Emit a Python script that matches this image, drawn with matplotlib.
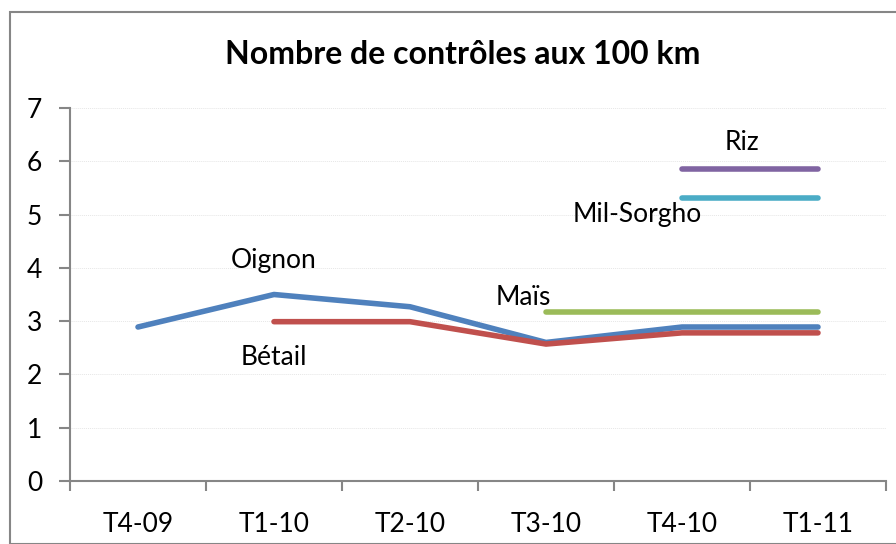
import matplotlib
matplotlib.use("Agg")
import matplotlib.pyplot as plt
import numpy as np
from matplotlib.patches import Rectangle

plt.rcParams['font.family'] = ['Lato', 'DejaVu Sans']

categories = ["T4-09", "T1-10", "T2-10", "T3-10", "T4-10", "T1-11"]
oignon = [2.89, 3.50, 3.27, 2.60, 2.89, 2.89]
betail = [None, 2.99, 2.99, 2.57, 2.78, 2.78]
mais = [None, None, None, 3.17, 3.17, 3.17]
mil_sorgho = [None, None, None, None, 5.31, 5.31]
riz = [None, None, None, None, 5.86, 5.86]

series = [
    ("Oignon", oignon, "#4F81BD"),
    ("Bétail", betail, "#C0504D"),
    ("Maïs", mais, "#9BBB59"),
    ("Mil-Sorgho", mil_sorgho, "#4BACC6"),
    ("Riz", riz, "#8064A2"),
]

W, H = 896, 544
fig = plt.figure(figsize=(W / 100, H / 100), dpi=100)
ax = fig.add_axes([70 / W, 1 - 481 / H, (886 - 70) / W, (481 - 108) / H])

x = np.arange(len(categories))
for name, vals, color in series:
    xs = [xi for xi, v in zip(x, vals) if v is not None]
    ys = [v for v in vals if v is not None]
    ax.plot(xs, ys, color=color, lw=4, solid_capstyle='round', solid_joinstyle='round', zorder=3)

FS = 19
ax.set_xlim(-0.5, len(categories) - 0.5)
ax.set_ylim(0, 7)
ax.set_yticks(range(0, 8))
ax.set_yticklabels([str(i) for i in range(0, 8)], fontsize=FS)
ax.set_xticks(x)
ax.set_xticklabels(categories, fontsize=FS)
ax.set_xticks(np.arange(-0.5, len(categories), 1), minor=True)
ax.tick_params(axis='x', which='major', length=0, pad=22)
ax.tick_params(axis='x', which='minor', length=7, width=1.5, color='#868686')
ax.tick_params(axis='y', length=8, width=1.5, color='#868686', pad=12)

for y in range(1, 8):
    ax.axhline(y, color='#E6E6E6', lw=0.7, ls=(0, (1, 1)), zorder=1)

for s in ['top', 'right']:
    ax.spines[s].set_visible(False)
for s in ['left', 'bottom']:
    ax.spines[s].set_color('#868686')
    ax.spines[s].set_linewidth(1.5)

# series labels
ax.text(1.0, 4.13, "Oignon", fontsize=FS, ha='center', va='center')
ax.text(1.0, 2.31, "Bétail", fontsize=FS, ha='center', va='center')
ax.text(2.83, 3.45, "Maïs", fontsize=FS, ha='center', va='center')
ax.text(3.67, 5.01, "Mil-Sorgho", fontsize=FS, ha='center', va='center')
ax.text(4.44, 6.36, "Riz", fontsize=FS, ha='center', va='center')

fig.text(463 / W, 1 - 55 / H, "Nombre de contrôles aux 100 km", fontsize=23,
         fontweight='bold', ha='center', va='center')

fig.patches.append(Rectangle((10 / W, 0), 1.0, 1 - 12 / H, transform=fig.transFigure,
                             fill=False, edgecolor='#868686', lw=1.5))

fig.savefig("out.png", dpi=100)
